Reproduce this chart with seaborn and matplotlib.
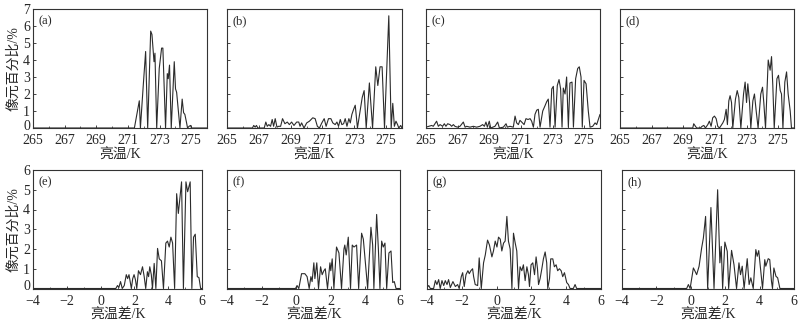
import numpy as np
import matplotlib
matplotlib.use("Agg")
import matplotlib.pyplot as plt
from matplotlib.ticker import MultipleLocator
from matplotlib.transforms import ScaledTranslation
import seaborn as sns

# panel data (x = brightness temperature or difference, y = pixel percentage)
a_x = [265.0, 271.41, 271.72, 271.79, 271.97, 272.12, 272.25, 272.44, 272.52, 272.65, 272.71, 272.82,
       272.98, 273.13, 273.21, 273.38, 273.49, 273.55, 273.63, 273.74, 273.93, 274.01, 274.08, 274.29,
       274.43, 274.52, 274.60, 274.71, 274.77, 274.87, 274.96, 275.02, 276.0]
a_y = [0, 0, 1.6, 0, 2.5, 4.5, 0, 5.7, 5.5, 3.9, 4.4, 0,
       3.5, 4.7, 4.7, 0, 3.2, 2.9, 3.7, 0, 3.9, 2.3, 2.1, 0,
       1.7, 0.9, 0.8, 0.3, 0, 0.1, 0.15, 0, 0]

b_x = [265.0, 266.60, 266.68, 266.77, 266.85, 266.94, 267.34, 267.44, 267.53, 267.63, 267.74, 267.84,
       267.93, 268.03, 268.14, 268.24, 268.37, 268.49, 268.64, 268.79, 268.92, 269.06, 269.21, 269.38,
       269.51, 269.59, 269.69, 269.84, 270.01, 270.18, 270.39, 270.54, 270.68, 270.81, 270.96, 271.11,
       271.23, 271.38, 271.53, 271.65, 271.80, 271.91, 272.01, 272.12, 272.22, 272.33, 272.43, 272.54,
       272.66, 272.75, 272.85, 272.96, 273.06, 273.2, 273.5, 273.62, 273.75, 273.95, 274.15, 274.35,
       274.48, 274.62, 274.75, 274.9, 275.17, 275.32, 275.42, 275.52, 275.62, 275.72, 275.8, 275.92, 276.0]
b_y = [0, 0, 0.15, 0.05, 0.15, 0, 0, 0.35, 0.1, 0.2, 0.1, 0.5,
       0.1, 0.55, 0.05, 0.1, 0.1, 0.55, 0.25, 0.35, 0.2, 0.35, 0.15, 0.35,
       0.35, 0.1, 0.3, 0, 0.3, 0.4, 0.6, 0.55, 0.1, 0, 0.3, 0.55,
       0.1, 0.55, 0.55, 0.3, 0.2, 0.35, 0.1, 0.5, 0.2, 0.25, 0.55, 0.1,
       0.55, 0.3, 0.8, 1.1, 1.34, 0, 1.8, 2.2, 0, 2.65, 0, 3.6,
       2.5, 3.6, 3.6, 0, 6.6, 0, 1.45, 0.1, 0.4, 0.2, 0, 0.15, 0]

c_x = [265.0, 265.36, 265.46, 265.67, 265.78, 265.89, 266.05, 266.16, 266.26, 266.37, 266.52, 266.62,
       266.73, 266.83, 266.98, 267.15, 267.36, 267.47, 267.57, 267.78, 267.99, 268.20, 268.41, 268.58,
       268.69, 268.79, 268.88, 269.00, 269.09, 269.36, 269.53, 269.64, 269.89, 270.06, 270.14, 270.31,
       270.52, 270.63, 270.73, 270.84, 270.94, 271.05, 271.20, 271.32, 271.45, 271.58, 271.68, 271.79,
       271.89, 272.00, 272.10, 272.21, 272.38, 272.52, 272.63, 272.73, 272.84, 272.95, 273.05, 273.16,
       273.30, 273.41, 273.51, 273.60, 273.68, 273.79, 273.89, 274.00, 274.10, 274.23, 274.32, 274.46,
       274.59, 274.69, 274.80, 274.88, 274.99, 275.12, 275.26, 275.37, 275.54, 275.69, 275.79, 276.0]
c_y = [0.05, 0.15, 0.1, 0.4, 0.1, 0.2, 0.1, 0.25, 0.1, 0.25, 0.2, 0.1,
       0.2, 0.1, 0.05, 0.1, 0.35, 0.05, 0.1, 0.05, 0.1, 0.05, 0.1, 0.2,
       0.1, 0.35, 0.05, 0.4, 0, 0.1, 0.35, 0, 0.05, 0.25, 0.05, 0.1,
       0.05, 0.7, 0.3, 0.2, 0.45, 0.35, 0.2, 0.55, 0.5, 0.55, 0.4, 0.05,
       0.8, 1.05, 1.1, 0.05, 1.0, 1.3, 1.55, 1.7, 0.05, 2.3, 2.45, 0.05,
       2.5, 2.85, 2.3, 0.05, 2.35, 2.0, 3.0, 0.05, 2.65, 2.7, 0.05, 2.9,
       3.5, 3.6, 3.0, 0.05, 2.8, 2.6, 1.0, 0.05, 0.1, 0.3, 0.2, 0.8]

d_x = [265.0, 269.60, 269.66, 269.77, 269.85, 270.08, 270.19, 270.30, 270.40, 270.55, 270.65, 270.76,
       270.86, 270.97, 271.08, 271.18, 271.29, 271.50, 271.60, 271.71, 271.79, 271.88, 271.96, 272.05,
       272.13, 272.30, 272.41, 272.51, 272.64, 272.81, 272.91, 273.00, 273.08, 273.19, 273.27, 273.40,
       273.50, 273.61, 273.73, 273.90, 274.01, 274.09, 274.20, 274.37, 274.49, 274.58, 274.66, 274.75,
       274.92, 275.02, 275.13, 275.21, 275.30, 275.42, 275.53, 275.63, 275.76, 275.84, 276.0]
d_y = [0, 0, 0.25, 0.1, 0, 0, 0.1, 0.15, 0, 0.2, 0.4, 0.1,
       0.6, 0.7, 0.55, 0.1, 0, 0.3, 0.5, 1.1, 0.2, 1.6, 1.9, 1.5,
       0, 1.7, 2.2, 1.8, 0, 2.0, 2.7, 1.5, 2.6, 1.5, 0, 1.6,
       2.0, 1.0, 0, 2.0, 2.4, 1.5, 0, 4.0, 3.4, 4.2, 2.5, 0,
       2.9, 3.1, 2.2, 2.0, 0, 2.7, 3.3, 2.0, 1.0, 0, 0]

e_x = [-4, 0.9, 1.0, 1.08, 1.18, 1.28, 1.4, 1.52, 1.6, 1.68,
       1.82, 1.9, 1.98, 2.06, 2.14, 2.24, 2.36, 2.48, 2.58, 2.67,
       2.77, 2.84, 2.91, 3.0, 3.07, 3.17, 3.27, 3.37, 3.47, 3.6,
       3.72, 3.86, 3.96, 4.06, 4.16, 4.26, 4.38, 4.5, 4.6, 4.79,
       4.9, 5.05, 5.15, 5.3, 5.4, 5.5, 5.6, 5.72, 5.82, 5.92, 6]
e_y = [0, 0, 0.15, 0.05, 0.35, 0, 0.15, 0.7, 0.5, 0.7,
       0, 0.5, 0.7, 0.45, 0, 0.9, 0.7, 1.1, 0.6, 0,
       0.85, 0.6, 1.1, 0.7, 0, 1.27, 0, 2.03, 1.5, 1.4,
       0, 2.3, 2.4, 2.1, 2.6, 2.3, 0, 4.8, 3.8, 5.4,
       0, 5.4, 4.9, 5.4, 0, 2.6, 2.75, 0.6, 0.55, 0, 0]

f_x = [-4, -0.04, 0.05, 0.15, 0.31, 0.50, 0.63, 0.75, 0.85, 0.92, 1.02, 1.08,
       1.19, 1.29, 1.41, 1.50, 1.60, 1.68, 1.81, 1.95, 2.00, 2.08, 2.18, 2.33,
       2.47, 2.62, 2.76, 2.81, 2.89, 3.01, 3.14, 3.24, 3.34, 3.49, 3.61, 3.78,
       3.88, 4.13, 4.32, 4.42, 4.49, 4.65, 4.75, 4.84, 4.94, 5.03, 5.13, 5.23,
       5.36, 5.48, 5.58, 5.67, 5.77, 6]
f_y = [0, 0, 0.15, 0, 0.75, 0.75, 0.6, 0, 0.6, 0.35, 1.3, 0.5,
       1.3, 0, 1.1, 0.7, 0.9, 1.0, 0, 1.3, 0.9, 1.5, 0, 2.1,
       1.8, 0, 2.0, 2.2, 1.7, 2.6, 0, 2.2, 2.1, 2.2, 0, 2.8,
       2.5, 0, 3.1, 2.2, 0, 3.75, 2.0, 0, 2.4, 2.1, 2.3, 0,
       1.8, 1.9, 0.3, 0.35, 0, 0]

g_x = [-4.0, -3.90, -3.81, -3.62, -3.52, -3.43, -3.33, -3.24, -3.14, -3.04, -2.95, -2.85,
       -2.76, -2.66, -2.51, -2.37, -2.24, -2.15, -2.03, -1.95, -1.86, -1.76, -1.65, -1.57,
       -1.48, -1.38, -1.32, -1.23, -1.09, -1.0, -0.88, -0.75, -0.65, -0.52, -0.41, -0.27,
       -0.18, -0.08, 0.02, 0.11, 0.21, 0.30, 0.40, 0.49, 0.59, 0.68, 0.78, 0.88,
       0.97, 1.07, 1.16, 1.26, 1.35, 1.45, 1.54, 1.64, 1.74, 1.83, 1.89, 1.98,
       2.08, 2.18, 2.27, 2.35, 2.41, 2.50, 2.60, 2.69, 2.79, 2.88, 2.94, 3.04,
       3.11, 3.23, 3.32, 3.42, 3.51, 3.61, 3.71, 3.80, 3.90, 4.03, 4.13, 4.22,
       4.41, 4.51, 4.60, 6]
g_y = [0.05, 0.15, 0, 0, 0.4, 0.2, 0.45, 0, 0.4, 0.15, 0.4, 0.2,
       0.45, 0.05, 0.35, 0.1, 0.2, 0, 0.6, 0.8, 0.1, 0.7, 0.9, 0.75,
       0.9, 1.0, 0.6, 0.2, 0.15, 1.55, 0, 1.3, 1.7, 2.45, 2.2, 1.6,
       1.9, 2.4, 2.1, 2.6, 2.5, 1.9, 2.3, 2.4, 3.65, 2.4, 2.0, 0,
       2.8, 2.3, 1.9, 0, 1.1, 0.9, 1.2, 0.4, 1.1, 0.7, 0.1, 1.2,
       1.3, 0.7, 1.6, 1.0, 0.2, 0.5, 1.0, 1.5, 1.85, 1.3, 0, 0.5,
       1.5, 1.5, 1.1, 1.2, 0.9, 1.0, 0.9, 0.6, 0.8, 0.3, 0.2, 0,
       0, 0.2, 0, 0]

h_x = [-4, -0.24, -0.14, -0.04, 0.15, 0.25, 0.34, 0.48, 0.63, 0.73,
       0.86, 0.98, 1.17, 1.35, 1.56, 1.69, 1.77, 1.85, 1.98, 2.12,
       2.20, 2.37, 2.51, 2.66, 2.80, 2.89, 2.99, 3.10, 3.28, 3.39,
       3.49, 3.63, 3.78, 3.86, 3.95, 4.05, 4.17, 4.30, 4.36, 4.50,
       4.59, 4.69, 4.75, 4.83, 4.95, 5.05, 5.18, 6]
h_y = [0, 0, 0.2, 0, 1.04, 0.87, 0.7, 1.12, 2.05, 2.55,
       3.65, 0, 4.1, 0, 5.0, 1.3, 2.13, 0, 2.35, 1.88,
       0, 1.93, 1.21, 0, 1.3, 0.7, 1.13, 0, 1.51, 0.2,
       0.54, 0, 1.97, 1.63, 1.92, 1.04, 0, 1.46, 1.13, 1.51,
       1.46, 0.37, 0, 1.04, 0.62, 0.54, 0, 0]

panel_labels = ["(a)", "(b)", "(c)", "(d)", "(e)", "(f)", "(g)", "(h)"]
top_xticks = [265, 267, 269, 271, 273, 275]
bot_xticks = [-4, -2, 0, 2, 4, 6]
top_xlabel = "亮温/K"
bot_xlabel = "亮温差/K"
ylabel = "像元百分比/%"

sns.set_style("ticks")
plt.rcParams['font.family'] = ['Liberation Serif', 'Noto Sans CJK SC']
plt.rcParams['axes.unicode_minus'] = True

W, H = 807, 330
fig = plt.figure(figsize=(W / 100, H / 100), dpi=100)

# axes boxes in pixels: (left, right) and (top, bottom)
top_boxes = [(33, 207), (227, 402), (426, 600), (620, 794)]
bot_boxes = [(33, 202), (227, 400), (427, 601), (622, 794)]

series = [(a_x, a_y), (b_x, b_y), (c_x, c_y), (d_x, d_y),
          (e_x, e_y), (f_x, f_y), (g_x, g_y), (h_x, h_y)]

line_col = "#2b2b2b"
for i, (xs, ys) in enumerate(series):
    top = i < 4
    l, r = (top_boxes if top else bot_boxes)[i % 4]
    t, b = (9, 128) if top else (170, 288.5)
    ax = fig.add_axes([l / W, 1 - b / H, (r - l) / W, (b - t) / H])
    sns.lineplot(x=xs, y=ys, ax=ax, color=line_col, lw=0.8, estimator=None, sort=False)
    if top:
        ax.set_xlim(265, 276)
        ax.set_ylim(0, 7)
        ax.set_xticks(top_xticks)
        ax.set_yticks(range(0, 8))
    else:
        ax.set_xlim(-4, 6)
        ax.set_ylim(0, 6)
        ax.set_xticks(bot_xticks)
        ax.set_yticks(range(0, 7))
    ax.set_xlabel(top_xlabel if top else bot_xlabel, fontsize=10, labelpad=1)
    ax.xaxis.set_minor_locator(MultipleLocator(1))
    ax.tick_params(direction="in", length=2.5, width=0.6, labelsize=10)
    ax.tick_params(axis="x", pad=4.5)
    ax.tick_params(axis="y", pad=2)
    ax.tick_params(which="minor", direction="in", length=1.5, width=0.5)
    if i % 4 == 0:
        ax.set_ylabel(ylabel, fontsize=10, labelpad=2)
        # nudge the "0" label up a little so it clears the x tick label below it
        zero_lab = ax.get_yticklabels()[0]
        zero_lab.set_transform(zero_lab.get_transform() + ScaledTranslation(0, 2.5 / 72, fig.dpi_scale_trans))
    else:
        ax.set_yticklabels([])
    for sp in ax.spines.values():
        sp.set_visible(True)
        sp.set_linewidth(0.8)
        sp.set_color("#333333")
    ax.text(0.03, 0.95, panel_labels[i], transform=ax.transAxes, va="top", ha="left", fontsize=9)

fig.savefig("out.png", dpi=100)
